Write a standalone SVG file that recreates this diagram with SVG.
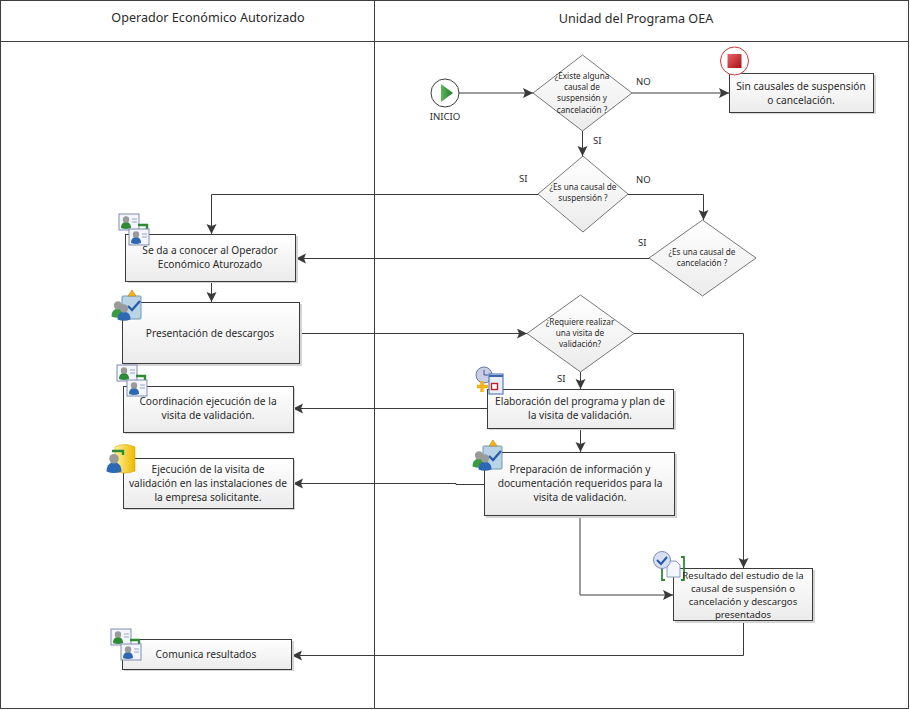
<svg xmlns="http://www.w3.org/2000/svg" width="910" height="710" viewBox="0 0 910 710">
<style>
text{font-family:"Noto Sans","Open Sans","Liberation Sans",sans-serif;fill:#2b2b2b;text-anchor:middle}
.lane{font-size:12.600px}
.t{font-size:10.200px}
.r{font-size:9.600px}
.s{font-size:8.200px}
.l{font-size:9.500px;text-anchor:start}
.box{fill:url(#g);stroke:#3a3a3a;stroke-width:1}
.sh{fill:#d4d4d4}
.dia{fill:url(#g);stroke:#555;stroke-width:.8}
.c{fill:none;stroke:#3a3a3a;stroke-width:1;marker-end:url(#a)}
.f{fill:none;stroke:#3f3f3f;stroke-width:1}
</style>
<defs>
<linearGradient id="g" x1="0" y1="0" x2="0" y2="1"><stop offset="0" stop-color="#fff"/><stop offset="1" stop-color="#ebebeb"/></linearGradient>
<linearGradient id="rd" x1="0" y1="0" x2="1" y2="1"><stop offset="0" stop-color="#e8666a"/><stop offset="1" stop-color="#a80f14"/></linearGradient>
<linearGradient id="gn" x1="0" y1="0" x2="1" y2="0"><stop offset="0" stop-color="#5fb85a"/><stop offset="1" stop-color="#1f7a2a"/></linearGradient>
<linearGradient id="yl" x1="0" y1="0" x2="1" y2="0"><stop offset="0" stop-color="#fff29a"/><stop offset="1" stop-color="#eeb800"/></linearGradient>
<marker id="a" markerUnits="userSpaceOnUse" markerWidth="11" markerHeight="11" refX="10" refY="5" orient="auto"><path d="M0,0L10,5L0,10L2,5Z" fill="#3a3a3a"/></marker>
<g id="person"><path d="M-5,5C-5,0-2,-1,0,-1S5,0,5,5Q0,7-5,5Z"/><circle cx="0" cy="-3.500" r="3.200" fill="#9a9a9a"/></g>
<g id="cards">
<rect x="0" y="0" width="20" height="16" fill="#f4f6fb" stroke="#7c8cb0"/>
<use href="#person" x="7" y="9" fill="#2f8a36"/>
<path d="M13,5h5M13,8h5" stroke="#98a6cc"/>
<path d="M19,11h9v7" fill="none" stroke="#2f8a36" stroke-width="2.400"/>
<rect x="10" y="15" width="20" height="16" fill="#f4f6fb" stroke="#7c8cb0"/>
<use href="#person" x="17" y="24" fill="#2d68b4"/>
<path d="M23,20h5M23,23h5" stroke="#98a6cc"/>
</g>
<g id="check">
<rect x="9" y="3" width="19" height="23" rx="1" fill="#b8d4e6" stroke="#6f98ad"/>
<path d="M15,3l4,-6l4,6z" fill="#f4b41c" stroke="#b57f10" stroke-width=".6"/>
<path d="M15,13l4,4l8,-9" fill="none" stroke="#2a5fa8" stroke-width="2.400"/>
<use href="#person" transform="translate(5,17) scale(1.300)" fill="#3a9a40"/>
<use href="#person" transform="translate(11,20) scale(1.300)" fill="#2d68b4"/>
</g>
</defs>

<g id="lanes">
<rect x="0.500" y="0.500" width="908" height="708" fill="#fff" stroke="#3f3f3f"/>
<path class="f" d="M0,41.500H908M374.500,0V708"/>
<text class="lane" x="208" y="22">Operador Económico Autorizado</text>
<text class="lane" x="636" y="23">Unidad del Programa OEA</text>
</g>

<g id="connectors">
<path class="c" d="M459,93H533"/>
<path class="c" d="M632,93H729"/>
<path class="c" d="M582.500,131V156"/>
<path class="c" d="M538,194.500H211.500V234"/>
<path class="c" d="M628,194.500H703.500V220"/>
<path class="c" d="M649,258.500H296"/>
<path class="c" d="M211.500,281V302"/>
<path class="c" d="M300,333.500H527"/>
<path class="c" d="M580.500,372V389"/>
<path class="c" d="M634,333.500H743.500V568"/>
<path class="c" d="M487,408.500H293"/>
<path class="c" d="M580.500,428V452"/>
<path class="c" d="M484,484.500H456V483.500H293"/>
<path class="c" d="M580,516V595H673"/>
<path class="c" d="M743.500,621V655.500H292"/>
<text class="l" x="636" y="85">NO</text>
<text class="l" x="593" y="144">SI</text>
<text class="l" x="519" y="182">SI</text>
<text class="l" x="636" y="183">NO</text>
<text class="l" x="638" y="246">SI</text>
<text class="l" x="557" y="382">SI</text>
</g>

<g id="inicio">
<circle cx="445" cy="93" r="14" fill="#fff" stroke="#3f3f3f"/>
<path d="M441,84L453,93L441,102Z" fill="url(#gn)"/>
<text class="r" x="445" y="120">INICIO</text>
</g>

<g id="d1">
<path class="dia" d="M582.500,55L632,93L582.500,131L533,93Z"/>
<text class="s" x="582" y="79">¿Existe alguna</text>
<text class="s" x="582" y="90">causal de</text>
<text class="s" x="582" y="101">suspensión y</text>
<text class="s" x="582" y="113">cancelación ?</text>
</g>

<g id="fin">
<rect class="sh" x="731" y="75" width="145" height="39"/>
<rect class="box" x="729.500" y="73.500" width="144" height="39"/>
<circle cx="734.500" cy="61" r="14" fill="#fff" stroke="#d2353a" stroke-width="1"/>
<rect x="727.500" y="54" width="14" height="14" fill="url(#rd)"/>
<text class="t" x="801" y="90">Sin causales de suspensión</text>
<text class="t" x="801" y="104">o cancelación.</text>
</g>

<g id="d2">
<path class="dia" d="M583,156L628,194L583,232L538,194Z"/>
<text class="s" x="583" y="190">¿Es una causal de</text>
<text class="s" x="583" y="201">suspensión ?</text>
</g>

<g id="d3">
<path class="dia" d="M702.500,220L756,258L702.500,296L649,258Z"/>
<text class="s" x="702" y="255">¿Es una causal de</text>
<text class="s" x="702" y="266">cancelación ?</text>
</g>

<g id="d4">
<path class="dia" d="M580.500,295L634,333.500L580.500,372L527,333.500Z"/>
<text class="s" x="580" y="325">¿Requiere realizar</text>
<text class="s" x="580" y="336">una visita de</text>
<text class="s" x="580" y="347">validación?</text>
</g>

<g id="n1">
<rect class="sh" x="128" y="236" width="170" height="47"/>
<rect class="box" x="125.500" y="234.500" width="170" height="47"/>
<use href="#cards" x="119" y="214"/>
<text class="t" x="210" y="254">Se da a conocer al Operador</text>
<text class="t" x="210" y="268">Económico Aturozado</text>
</g>

<g id="n2">
<rect class="sh" x="124" y="304" width="178" height="62"/>
<rect class="box" x="122.500" y="302.500" width="177" height="61"/>
<use href="#check" x="113" y="293"/>
<text class="t" x="210" y="337">Presentación de descargos</text>
</g>

<g id="n3">
<rect class="sh" x="125" y="388" width="170" height="46"/>
<rect class="box" x="123.500" y="386.500" width="170" height="46"/>
<use href="#cards" x="117" y="365"/>
<text class="t" x="208" y="405">Coordinación ejecución de la</text>
<text class="t" x="208" y="419">visita de validación.</text>
</g>

<g id="n4">
<rect class="sh" x="125" y="460" width="170" height="50"/>
<rect class="box" x="123.500" y="458.500" width="170" height="50"/>
<path d="M115,447Q125,442 135,447V471Q125,475 115,471Z" fill="url(#yl)" stroke="#d6a400" stroke-width=".6"/>
<path d="M112,451h11v4" fill="none" stroke="#2f8a36" stroke-width="2.400"/>
<use href="#person" transform="translate(114,464) scale(1.500)" fill="#2d68b4"/>
<text class="t" x="208" y="473">Ejecución de la visita de</text>
<text class="t" x="208" y="487">validación en las instalaciones de</text>
<text class="t" x="208" y="501">la empresa solicitante.</text>
</g>

<g id="n5">
<rect class="sh" x="489" y="391" width="187" height="39"/>
<rect class="box" x="487.500" y="389.500" width="186" height="39"/>
<circle cx="484" cy="375" r="8" fill="#c7cee6" stroke="#6e78a8"/>
<path d="M484,370v5h4" fill="none" stroke="#4a5590" stroke-width="1"/>
<rect x="489" y="374" width="14" height="20" fill="#e8eef8" stroke="#3d66b0"/>
<path d="M489,376h14" stroke="#3d66b0" stroke-width="2"/>
<path d="M482,381v11M477,386.500h11" stroke="#f2b21e" stroke-width="3.500"/>
<rect x="491.500" y="383.500" width="6" height="6" fill="#fff" stroke="#c0202a" stroke-width="1.400"/>
<text class="t" x="580" y="405">Elaboración del programa y plan de</text>
<text class="t" x="580" y="419">la visita de validación.</text>
</g>

<g id="n6">
<rect class="sh" x="486" y="454" width="191" height="64"/>
<rect class="box" x="484.500" y="452.500" width="190" height="63"/>
<use href="#check" x="474" y="443"/>
<text class="t" x="580" y="473">Preparación de información y</text>
<text class="t" x="580" y="487">documentación requeridos para la</text>
<text class="t" x="580" y="501">visita de validación.</text>
</g>

<g id="n7">
<rect class="sh" x="675" y="570" width="140" height="53"/>
<rect class="box" x="673.500" y="568.500" width="139" height="52"/>
<path d="M665,557h-3v23h3M681,557h3v23h-3" fill="none" stroke="#2f8a36" stroke-width="1.800"/>
<path d="M667,561h9l4,4v12h-13z" fill="#f2f5fb" stroke="#8c9cbc"/>
<circle cx="662" cy="560" r="8.500" fill="#d6e0f2" stroke="#7c8cb8"/>
<path d="M657,560l4,4l6,-7" fill="none" stroke="#2458ac" stroke-width="2"/>
<text class="r" x="743" y="579">Resultado del estudio de la</text>
<text class="r" x="743" y="592">causal de suspensión o</text>
<text class="r" x="743" y="605">cancelación y descargos</text>
<text class="r" x="743" y="618">presentados</text>
</g>

<g id="n8">
<rect class="sh" x="124" y="641" width="170" height="30"/>
<rect class="box" x="122.500" y="639.500" width="169" height="30"/>
<use href="#cards" x="111" y="629"/>
<text class="t" x="206" y="658">Comunica resultados</text>
</g>
</svg>
